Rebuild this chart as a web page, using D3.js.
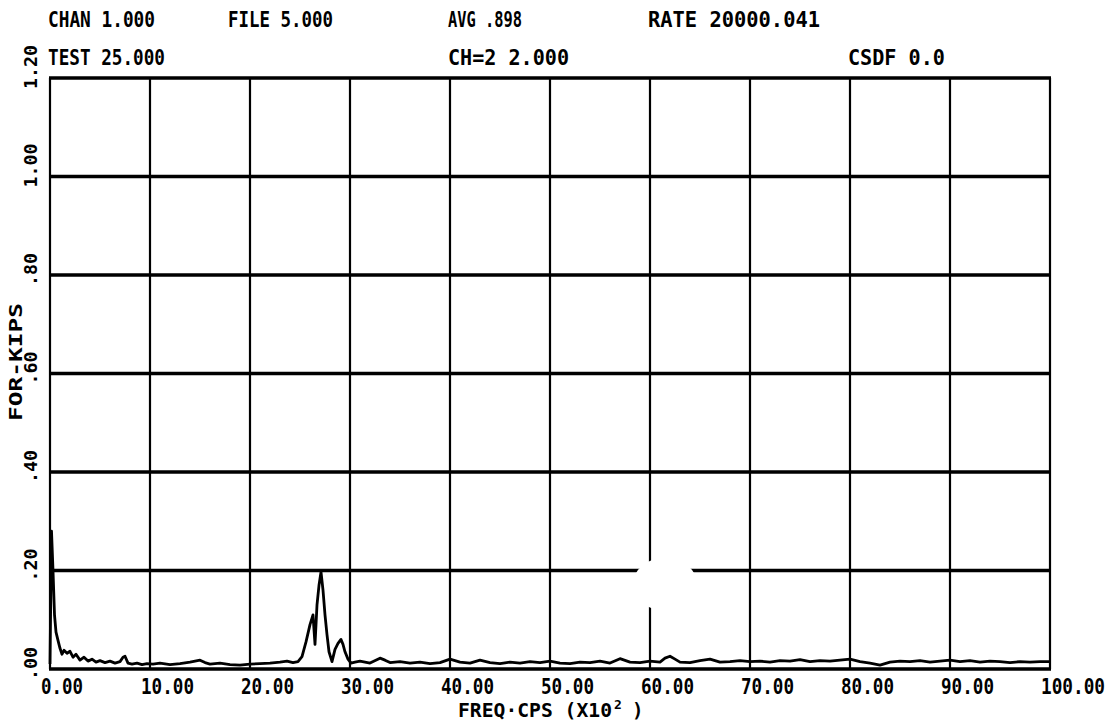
<!DOCTYPE html>
<html><head><meta charset="utf-8">
<script src="https://cdn.jsdelivr.net/npm/d3@7"></script>
<style>
html,body{margin:0;padding:0;background:#fff;}
svg text{font-family:"DejaVu Sans Mono",monospace;font-weight:bold;fill:#000;}
</style></head>
<body><svg id="chart" width="1117" height="721"></svg>
<script>
// ---- data ----
const freq = [
 0,0.15,0.3,0.45,0.6,0.8,1.0,1.2,1.4,1.7,2.0,2.3,2.6,3.0,3.4,3.8,4.2,4.6,5.0,5.5,6.0,6.5,7.0,7.3,7.5,7.8,8.2,8.7,9.2,9.7,
 10.3,11,12,13,14,15,15.5,16,17,18,19,20,21,22,23,23.7,24.3,
 24.8,25.2,25.6,26.0,26.3,26.5,26.7,26.9,27.1,27.3,27.5,27.7,27.9,28.2,28.5,28.8,29.1,29.3,29.5,29.8,30.1,30.5,
 31,32,33,33.5,34,35,36,37,38,39,40,41,42,43,44,45,46,47,48,49,50,51,52,53,54,55,56,57,58,59,60,61,61.5,62,62.5,63,64,65,66,67,68,69,
 70,71,72,73,74,75,76,77,78,79,80,81,82,83,84,85,86,87,88,89,90,91,92,93,94,95,96,97,98,99,100
];
const amp = [
 0.010,0.280,0.200,0.110,0.075,0.058,0.042,0.030,0.038,0.032,0.036,0.024,0.030,0.018,0.024,0.016,0.020,0.014,0.017,0.013,0.016,0.012,0.015,0.024,0.026,0.012,0.010,0.012,0.009,0.011,
 0.010,0.012,0.009,0.011,0.014,0.018,0.013,0.010,0.012,0.009,0.008,0.010,0.011,0.012,0.014,0.016,0.013,
 0.015,0.025,0.055,0.090,0.110,0.050,0.130,0.170,0.197,0.160,0.110,0.070,0.035,0.015,0.040,0.052,0.060,0.050,0.035,0.020,0.012,0.014,
 0.016,0.012,0.022,0.018,0.013,0.015,0.012,0.014,0.011,0.013,0.020,0.014,0.012,0.018,0.013,0.011,0.014,0.012,0.015,0.013,0.016,0.012,0.011,0.014,0.013,0.016,0.012,0.021,0.014,0.013,0.016,0.014,0.022,0.026,0.020,0.014,0.013,0.017,0.020,0.014,0.015,0.017,
 0.015,0.016,0.014,0.017,0.016,0.019,0.015,0.017,0.016,0.018,0.020,0.015,0.012,0.008,0.014,0.016,0.015,0.017,0.014,0.016,0.018,0.015,0.017,0.014,0.016,0.015,0.013,0.015,0.014,0.015,0.015
];
const xTicks = [0,10,20,30,40,50,60,70,80,90,100];
const xTickLabels = ["0.00","10.00","20.00","30.00","40.00","50.00","60.00","70.00","80.00","90.00","100.00"];
const yTicks = [0,0.2,0.4,0.6,0.8,1.0,1.2];
const yTickLabels = [".00",".20",".40",".60",".80","1.00","1.20"];
const headerRow1 = ["CHAN 1.000","FILE 5.000","AVG .898","RATE 20000.041"];
const headerRow2 = ["TEST 25.000","CH=2 2.000","CSDF 0.0"];
const xTitle = "FREQ·CPS (X10";
const yTitle = "FOR-KIPS";

// ---- drawing ----
const svg = d3.select("#chart");
const x = d3.scaleLinear().domain([0,100]).range([50,1050]);
const y = d3.scaleLinear().domain([0,1.2]).range([669,78]);

// header
const h1x=[48,228,448,648], h1w=[107,105,74,172];
headerRow1.forEach((t,i)=>svg.append("text").attr("x",h1x[i]).attr("y",27).attr("font-size",21)
  .attr("textLength",h1w[i]).attr("lengthAdjust","spacingAndGlyphs").text(t));
const h2x=[48,448,848], h2w=[117,121,97];
headerRow2.forEach((t,i)=>svg.append("text").attr("x",h2x[i]).attr("y",65).attr("font-size",21)
  .attr("textLength",h2w[i]).attr("lengthAdjust","spacingAndGlyphs").text(t));

// grid
svg.append("g").selectAll("line").data(xTicks).join("line")
  .attr("x1",d=>x(d)).attr("x2",d=>x(d)).attr("y1",y(1.2)).attr("y2",y(0))
  .attr("stroke","#000").attr("stroke-width",2.2);
svg.append("g").selectAll("line").data(yTicks).join("line")
  .attr("x1",x(0)-1).attr("x2",x(100)+1).attr("y1",d=>y(d)).attr("y2",d=>y(d))
  .attr("stroke","#000").attr("stroke-width",3.4);

// trace
const pts = freq.map((f,i)=>[f,amp[i]]);
svg.append("path").datum(pts)
  .attr("d",d3.line().x(d=>x(d[0])).y(d=>y(d[1])))
  .attr("fill","none").attr("stroke","#000").attr("stroke-width",2.8).attr("stroke-linejoin","round");

// scan artifact (white blot over grid)
svg.append("ellipse").attr("cx",x(61.5)).attr("cy",y(0.172))
  .attr("rx",x(64.7)-x(61.5)).attr("ry",y(0.118)-y(0.172)).attr("fill","#fff");

// x tick labels
svg.append("g").selectAll("text").data(xTicks).join("text")
  .attr("x",d=>x(d)-9).attr("y",694).attr("font-size",21)
  .attr("textLength",(d,i)=>xTickLabels[i].length*11-2).attr("lengthAdjust","spacingAndGlyphs")
  .text((d,i)=>xTickLabels[i]);

// y tick labels (rotated)
svg.append("g").selectAll("text").data(yTicks).join("text")
  .attr("transform",d=>`translate(37,${y(d)+11}) rotate(-90)`)
  .attr("font-size",17)
  .attr("textLength",(d,i)=>yTickLabels[i].length*11).attr("lengthAdjust","spacingAndGlyphs")
  .text((d,i)=>yTickLabels[i]);

// axis titles
svg.append("text").attr("transform","translate(22,362) rotate(-90)").attr("text-anchor","middle")
  .attr("font-size",17).attr("textLength",118).attr("lengthAdjust","spacingAndGlyphs").text(yTitle);
svg.append("text").attr("x",458).attr("y",717).attr("font-size",19)
  .attr("textLength",154).attr("lengthAdjust","spacingAndGlyphs").text(xTitle);
svg.append("text").attr("x",614).attr("y",709).attr("font-size",13).text("2");
svg.append("text").attr("x",632).attr("y",717).attr("font-size",19).text(")");
</script></body></html>
